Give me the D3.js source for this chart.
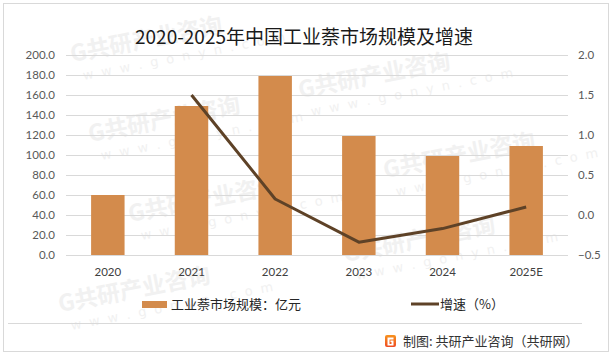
<!DOCTYPE html>
<html>
<head>
<meta charset="utf-8">
<script src="https://cdn.jsdelivr.net/npm/d3@7"></script>
<style>
  html, body { margin: 0; padding: 0; background: #fff; }
  svg { display: block; }
</style>
</head>
<body>
<svg id="chart" width="615" height="357"></svg>
<script>
const categories = ["2020", "2021", "2022", "2023", "2024", "2025E"];
const marketSize = [60, 149, 179, 119, 99, 109];
const growthRate = [null, 1.5, 0.2, -0.34, -0.17, 0.1];
const leftTicks = [0, 20, 40, 60, 80, 100, 120, 140, 160, 180, 200];
const rightTicks = [-0.5, 0, 0.5, 1.0, 1.5, 2.0];
const titleText = "2020-2025年中国工业萘市场规模及增速";
const legendBarLabel = "工业萘市场规模：亿元";
const legendLineLabel = "增速（%）";
const footerText = "制图: 共研产业咨询（共研网）";
const watermarkMain = "共研产业咨询";
const watermarkSub = "w w w . g o n y n . c o m";

const barColor = "#D38B4C";
const lineColor = "#5E4227";
const gridColor = "#D9D9D9";
const cjk = "'Noto Sans CJK SC', 'Noto Sans', sans-serif";
const numFont = "Lato, 'Noto Sans', sans-serif";

const svg = d3.select("#chart");

// watermarks (faint, behind, kept inside the frame)
const wmG = svg.append("g").attr("fill", "#F1F1F1");
const wmPos = [[72, 62], [300, 98], [90, 142], [385, 178], [130, 222], [345, 262], [60, 312]];
wmPos.forEach(([x, y]) => {
  const g = wmG.append("g").attr("transform", `translate(${x},${y}) rotate(-11)`);
  g.append("text").attr("font-family", cjk).attr("font-weight", 700).attr("font-size", 23)
    .text("G" + watermarkMain);
  g.append("text").attr("x", 8).attr("y", 20).attr("font-family", "'DejaVu Sans', sans-serif")
    .attr("font-size", 13).attr("letter-spacing", 2).text(watermarkSub);
});

// outer border
svg.append("rect").attr("x", 3.5).attr("y", 3.5).attr("width", 605).attr("height", 348)
  .attr("fill", "none").attr("stroke", gridColor).attr("stroke-width", 1);

const x = d3.scaleBand().domain(categories).range([66, 568]).paddingInner(0.6).paddingOuter(0.3);
const yL = d3.scaleLinear().domain([0, 200]).range([255, 55]);
const yR = d3.scaleLinear().domain([-0.5, 2]).range([255, 55]);

// gridlines
svg.append("g").selectAll("line").data(leftTicks).join("line")
  .attr("x1", 66).attr("x2", 568)
  .attr("y1", d => Math.round(yL(d)) + 0.5).attr("y2", d => Math.round(yL(d)) + 0.5)
  .attr("stroke", gridColor).attr("stroke-width", 1);

// left axis
const axL = svg.append("g").attr("transform", "translate(66,0)")
  .call(d3.axisLeft(yL).tickValues(leftTicks).tickFormat(d3.format(".1f")).tickSize(0).tickPadding(11));
axL.select(".domain").remove();
axL.selectAll("text").attr("font-family", numFont).attr("font-size", 11.5).attr("fill", "#595959");

// right axis
const axR = svg.append("g").attr("transform", "translate(568,0)")
  .call(d3.axisRight(yR).tickValues(rightTicks).tickFormat(d3.format(".1f")).tickSize(0).tickPadding(10));
axR.select(".domain").remove();
axR.selectAll("text").attr("font-family", numFont).attr("font-size", 11.5).attr("fill", "#595959");

// bars
svg.append("g").selectAll("rect").data(categories).join("rect")
  .attr("x", d => x(d)).attr("width", x.bandwidth())
  .attr("y", (d, i) => yL(marketSize[i])).attr("height", (d, i) => yL(0) - yL(marketSize[i]))
  .attr("fill", barColor);

// bottom axis labels
const axB = svg.append("g").attr("transform", "translate(0,255)")
  .call(d3.axisBottom(x).tickSize(0).tickPadding(13));
axB.select(".domain").remove();
axB.selectAll("text").attr("font-family", numFont).attr("font-size", 11.5).attr("fill", "#404040");

// line
const lineData = categories.map((c, i) => ({ c, v: growthRate[i] })).filter(d => d.v !== null);
svg.append("path").datum(lineData)
  .attr("d", d3.line().x(d => x(d.c) + x.bandwidth() / 2).y(d => yR(d.v)))
  .attr("fill", "none").attr("stroke", lineColor).attr("stroke-width", 3)
  .attr("stroke-linejoin", "round").attr("stroke-linecap", "butt");

// title
svg.append("text").attr("x", 304).attr("y", 44).attr("text-anchor", "middle")
  .attr("font-family", cjk).attr("font-size", 19).attr("fill", "#1a1a1a").text(titleText);

// legend
svg.append("rect").attr("x", 142).attr("y", 301).attr("width", 25).attr("height", 7).attr("fill", barColor);
svg.append("text").attr("x", 171).attr("y", 309).attr("font-family", cjk).attr("font-size", 13)
  .attr("fill", "#262626").text(legendBarLabel);
svg.append("line").attr("x1", 411).attr("x2", 439).attr("y1", 304).attr("y2", 304)
  .attr("stroke", lineColor).attr("stroke-width", 3);
svg.append("text").attr("x", 440).attr("y", 309).attr("font-family", cjk).attr("font-size", 13)
  .attr("fill", "#262626").text(legendLineLabel);

// footer separator
svg.append("line").attr("x1", 8).attr("x2", 582).attr("y1", 323.5).attr("y2", 323.5)
  .attr("stroke", gridColor).attr("stroke-width", 1);

// footer logo
const defs = svg.append("defs");
const grad = defs.append("linearGradient").attr("id", "logoGrad").attr("x1", 0).attr("y1", 0).attr("x2", 0).attr("y2", 1);
grad.append("stop").attr("offset", "0%").attr("stop-color", "#F7931E");
grad.append("stop").attr("offset", "100%").attr("stop-color", "#EE4B23");
svg.append("rect").attr("x", 385).attr("y", 335).attr("width", 11).attr("height", 12).attr("rx", 2)
  .attr("fill", "url(#logoGrad)");
svg.append("path").attr("d", "M387.5,337.5 h6 v2 h-4 v4.5 h2 v-2 h-1 v-1.5 h3 v5 h-6 z").attr("fill", "#fff");

svg.append("text").attr("x", 403).attr("y", 346).attr("font-family", cjk).attr("font-size", 13)
  .attr("fill", "#333").text(footerText);
</script>
</body>
</html>
